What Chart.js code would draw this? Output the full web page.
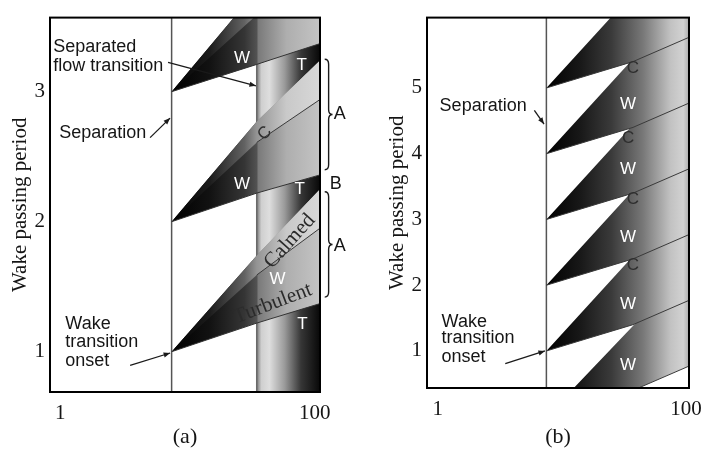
<!DOCTYPE html>
<html>
<head>
<meta charset="utf-8">
<script src="https://cdn.jsdelivr.net/npm/chart.js@4.4.0/dist/chart.umd.min.js"></script>
<style>
html,body{margin:0;padding:0;background:#fff;}
#wrap{position:relative;width:711px;height:453px;overflow:hidden;background:#fff;}
.box{position:absolute;top:0;}
</style>
</head>
<body>
<div id="wrap">
  <div class="box" style="left:0;width:360px;height:453px"><canvas id="ca" width="360" height="453"></canvas></div>
  <div class="box" style="left:360px;width:351px;height:453px"><canvas id="cb" width="351" height="453"></canvas></div>
</div>
<script>
// ================= DATA =================
// shared
const xTickValues = [1, 100];
const separationX = 7.5;                 // separation line (x value)

// ---- panel (a) ----
const yTickValuesA = [1, 2, 3];
const xLimitsA = [0.83, 110];
const yLimitsA = [0.69, 3.57];
const bandStartA = 35;                    // start of the transitional band
const knotXA = [7.5, 35, 110];            // x where the edge values below are read
const leadingEdgeA  = [[1, 1.22, 1.37], [2, 2.22, 2.36], [3, 3.21, 3.37]];
const calmedEdgeA   = [[1, 1.59, 1.95], [2, 2.61, 2.94], [3, 3.59, 3.95]];
const trailingEdgeA = [[1, 1.74, 2.25], [2, 2.77, 3.24], [3, 3.78, 4.25]];

// ---- panel (b) ----
const yTickValuesB = [1, 2, 3, 4, 5];
const xLimitsB = [0.82, 105.5];
const yLimitsB = [0.437, 6.07];
const knotXB = [7.5, 37.3, 105.5];
const leadingEdgeB  = [[0, 0.40, 0.77], [1, 1.40, 1.77], [2, 2.40, 2.77], [3, 3.40, 3.77], [4, 4.40, 4.77], [5, 5.40, 5.77]];
const trailingEdgeB = [[0, 1.38, 2.30], [1, 2.44, 3.38], [2, 3.44, 4.38], [3, 4.44, 5.38], [4, 5.44, 6.38], [5, 6.44, 7.38]];

// ================= STYLES =================
const INK = '#151515';
const SANS = '18px "Liberation Sans", Arial, sans-serif';
const LBL = '17px "Liberation Sans", Arial, sans-serif';
const SERIF21 = '21px "Liberation Serif", "Times New Roman", serif';
const SERIF_FAMILY = '"Liberation Serif", "Times New Roman", serif';

const gradA = {
  band: [[35,'#767676'],[38,'#cfcfcf'],[44,'#dedede'],[58,'#9a9a9a'],[78,'#363636'],[110,'#080808']],
  wake: [[7.5,'#000000'],[15,'#121212'],[28,'#353535'],[35,'#525252'],[36,'#7a7a7a'],[60,'#aeaeae'],[110,'#c4c4c4']],
  calm: [[7.5,'#000000'],[15,'#1c1c1c'],[28,'#626262'],[35,'#949494'],[60,'#c9c9c9'],[110,'#d8d8d8']]
};
const gradB = [[7.5,'#000000'],[14,'#181818'],[25,'#3a3a3a'],[45,'#787878'],[75,'#c2c2c2'],[95,'#d2d2d2'],[105.5,'#adadad']];

// ================= HELPERS =================
function hGrad(chart, stops) {
  const {ctx, chartArea, scales} = chart;
  if (!chartArea || !scales.x) return stops[Math.floor(stops.length / 2)][1];
  const x0 = scales.x.getPixelForValue(stops[0][0]);
  const x1 = scales.x.getPixelForValue(stops[stops.length - 1][0]);
  const g = ctx.createLinearGradient(x0, 0, x1, 0);
  for (const [v, c] of stops) {
    const f = (scales.x.getPixelForValue(v) - x0) / (x1 - x0);
    g.addColorStop(Math.max(0, Math.min(1, f)), c);
  }
  return g;
}
function polygon(xs, upper, lower) {
  const pts = [];
  xs.forEach((x, i) => pts.push({x, y: upper[i]}));
  for (let i = xs.length - 1; i >= 0; i--) pts.push({x: xs[i], y: lower[i]});
  return pts;
}
function pts(xs, ys) { return xs.map((x, i) => ({x, y: ys[i]})); }
function area(data, stops) {
  return {data, fill: 'shape', borderWidth: 0, borderColor: 'rgba(0,0,0,0)',
          backgroundColor: c => hGrad(c.chart, stops), pointRadius: 0, tension: 0};
}
function line(data, color, width) {
  return {data, fill: false, borderColor: color, borderWidth: width, pointRadius: 0, tension: 0};
}
function arrow(ctx, X1, Y1, X2, Y2, head) {
  ctx.beginPath(); ctx.moveTo(X1, Y1); ctx.lineTo(X2, Y2); ctx.stroke();
  if (head) {
    const a = Math.atan2(Y2 - Y1, X2 - X1), L = 7, w = 0.38;
    ctx.beginPath(); ctx.moveTo(X2, Y2);
    ctx.lineTo(X2 - L * Math.cos(a - w), Y2 - L * Math.sin(a - w));
    ctx.lineTo(X2 - L * Math.cos(a + w), Y2 - L * Math.sin(a + w));
    ctx.closePath(); ctx.fill();
  }
}
function brace(ctx, X0, X1, Y0, Y1) {
  const xm = (X0 + X1) / 2, ym = (Y0 + Y1) / 2, r = 5;
  ctx.beginPath();
  ctx.moveTo(X0, Y0);
  ctx.quadraticCurveTo(xm, Y0, xm, Y0 + r);
  ctx.lineTo(xm, ym - r);
  ctx.quadraticCurveTo(xm, ym, X1, ym);
  ctx.quadraticCurveTo(xm, ym, xm, ym + r);
  ctx.lineTo(xm, Y1 - r);
  ctx.quadraticCurveTo(xm, Y1, X0, Y1);
  ctx.stroke();
}
function decorPlugin(d) {
  return {
    id: 'decor',
    afterDraw(chart) {
      const {ctx, chartArea: a, scales: {x, y}} = chart;
      const px = v => x.getPixelForValue(v), py = v => y.getPixelForValue(v);
      ctx.save();
      ctx.strokeStyle = '#1a1a1a'; ctx.fillStyle = '#1a1a1a'; ctx.lineWidth = 1.3;
      for (const r of d.arrows) arrow(ctx, px(r[0]), py(r[1]), px(r[2]), py(r[3]), r[4]);
      ctx.lineWidth = 1.4;
      for (const b of d.braces) brace(ctx, px(b[0]), px(b[1]), py(b[2]), py(b[3]));
      for (const t of d.texts) {
        ctx.save();
        ctx.translate(px(t[1]), py(t[2]));
        if (t[6]) ctx.rotate(t[6] * Math.PI / 180);
        ctx.font = t[3]; ctx.fillStyle = t[4];
        ctx.textAlign = t[5] || 'center'; ctx.textBaseline = 'middle';
        ctx.fillText(t[0], 0, 0);
        ctx.restore();
      }
      ctx.strokeStyle = '#000'; ctx.lineWidth = 2;
      ctx.strokeRect(a.left, a.top, a.right - a.left, a.bottom - a.top);
      ctx.restore();
    }
  };
}
function makeChart(el, c) {
  const ds = c.datasets.map((d, i, arr) => Object.assign(d, {order: arr.length - i}));
  return new Chart(el, {
    type: 'line',
    data: {datasets: ds},
    options: {
      responsive: false, animation: false, devicePixelRatio: 1,
      layout: {padding: c.padding},
      plugins: {legend: {display: false}, tooltip: {enabled: false}},
      scales: {
        x: {
          type: 'logarithmic', min: c.xLim[0], max: c.xLim[1], bounds: 'data',
          afterFit: s => { s.height = c.xh; },
          afterBuildTicks: s => { s.ticks = xTickValues.map(v => ({value: v})); },
          grid: {display: false, drawTicks: false}, border: {display: false},
          ticks: {autoSkip: false, maxRotation: 0, padding: 9, color: INK,
                  font: {family: SERIF_FAMILY, size: 21}, callback: v => String(v)},
          title: {display: true, text: c.xTitle, color: INK,
                  font: {family: SERIF_FAMILY, size: 22}, padding: {top: 0, bottom: 3}}
        },
        y: {
          type: 'linear', min: c.yLim[0], max: c.yLim[1], bounds: 'data',
          afterFit: s => { s.width = c.yw; },
          afterBuildTicks: s => { s.ticks = c.yTicks.map(v => ({value: v})); },
          grid: {display: false, drawTicks: false}, border: {display: false},
          ticks: {padding: 5, color: INK, font: {family: SERIF_FAMILY, size: 21}, callback: v => String(v)},
          title: {display: true, text: 'Wake passing period', color: INK,
                  font: {family: SERIF_FAMILY, size: 21}, padding: {top: 4, bottom: 0}}
        }
      }
    },
    plugins: [decorPlugin(c.decor)]
  });
}

// ================= PANEL (a) =================
const dsA = [];
dsA.push(area(pts([bandStartA, xLimitsA[1], xLimitsA[1], bandStartA],
                  [yLimitsA[0], yLimitsA[0], yLimitsA[1], yLimitsA[1]]), gradA.band));
dsA.push(line(pts([bandStartA, bandStartA], yLimitsA), '#6a6a6a', 1.5));
dsA.push(line(pts([separationX, separationX], yLimitsA), '#555555', 1.5));
trailingEdgeA.forEach((tr, k) => {
  dsA.push(area(polygon(knotXA, tr, leadingEdgeA[k]), gradA.wake));
  dsA.push(area(polygon(knotXA, tr, calmedEdgeA[k]), gradA.calm));
});
leadingEdgeA.forEach(le => dsA.push(line(pts(knotXA, le), '#333333', 1)));
calmedEdgeA.forEach(ce => dsA.push(line(pts(knotXA.slice(1), ce.slice(1)), '#3a3a3a', 1)));

const decorA = {
  texts: [
    ['Separated', 0.88, 3.34, SANS, INK, 'left'],
    ['flow transition', 0.88, 3.195, SANS, INK, 'left'],
    ['Separation', 0.98, 2.684, SANS, INK, 'left'],
    ['Wake', 1.095, 1.21, SANS, INK, 'left'],
    ['transition', 1.095, 1.075, SANS, INK, 'left'],
    ['onset', 1.095, 0.93, SANS, INK, 'left'],
    ['W', 26.8, 3.26, LBL, '#ffffff'],
    ['W', 26.8, 2.29, LBL, '#ffffff'],
    ['W', 51, 1.56, LBL, '#ffffff'],
    ['T', 79, 3.20, LBL, '#ffffff'],
    ['T', 76, 2.25, LBL, '#ffffff'],
    ['T', 80, 1.21, LBL, '#ffffff'],
    ['C', 40.5, 2.68, LBL, '#2e2e2e', 'center', -45],
    ['Calmed', 63.7, 1.85, SERIF21, '#2b2b2b', 'center', -48],
    ['Turbulent', 46.9, 1.37, SERIF21, '#2b2b2b', 'center', -21],
    ['A', 157, 2.83, SANS, INK],
    ['B', 146, 2.29, SANS, INK],
    ['A', 157, 1.81, SANS, INK]
  ],
  arrows: [
    [7.03, 3.226, 34.5, 3.045, true],
    [5.08, 2.647, 7.29, 2.797, true],
    [3.54, 0.895, 7.3, 0.99, true]
  ],
  braces: [[119.8, 138, 3.25, 2.40], [119.8, 138, 2.23, 1.42]]
};

makeChart(document.getElementById('ca'), {
  datasets: dsA, xLim: xLimitsA, yLim: yLimitsA, yTicks: yTickValuesA,
  padding: {left: 4, right: 40, top: 9, bottom: 0}, yw: 46, xh: 61, xTitle: '(a)', decor: decorA
});

// ================= PANEL (b) =================
const dsB = [];
dsB.push(line(pts([separationX, separationX], yLimitsB), '#555555', 1.5));
trailingEdgeB.forEach((tr, k) => dsB.push(area(polygon(knotXB, tr, leadingEdgeB[k]), gradB)));
leadingEdgeB.forEach(le => dsB.push(line(pts(knotXB, le), '#3a3a3a', 1)));

const decorB = {
  texts: [
    ['Separation', 1.036, 4.72, SANS, INK, 'left'],
    ['Wake', 1.074, 1.444, SANS, INK, 'left'],
    ['transition', 1.074, 1.193, SANS, INK, 'left'],
    ['onset', 1.074, 0.911, SANS, INK, 'left'],
    ['W', 34.1, 4.75, LBL, '#ffffff'],
    ['W', 34.1, 3.77, LBL, '#ffffff'],
    ['W', 34.1, 2.73, LBL, '#ffffff'],
    ['W', 34.1, 1.71, LBL, '#ffffff'],
    ['W', 34.1, 0.78, LBL, '#ffffff'],
    ['C', 37.3, 5.30, LBL, '#2e2e2e'],
    ['C', 34.1, 4.23, LBL, '#2e2e2e'],
    ['C', 37.3, 3.30, LBL, '#2e2e2e'],
    ['C', 37.3, 2.30, LBL, '#2e2e2e']
  ],
  arrows: [
    [6.0, 4.66, 7.18, 4.45, true],
    [3.5, 0.807, 7.3, 1.0, true]
  ],
  braces: []
};

makeChart(document.getElementById('cb'), {
  datasets: dsB, xLim: xLimitsB, yLim: yLimitsB, yTicks: yTickValuesB,
  padding: {left: 21, right: 13, top: 8, bottom: 0}, yw: 46, xh: 65, xTitle: '(b)', decor: decorB
});
</script>
</body>
</html>
